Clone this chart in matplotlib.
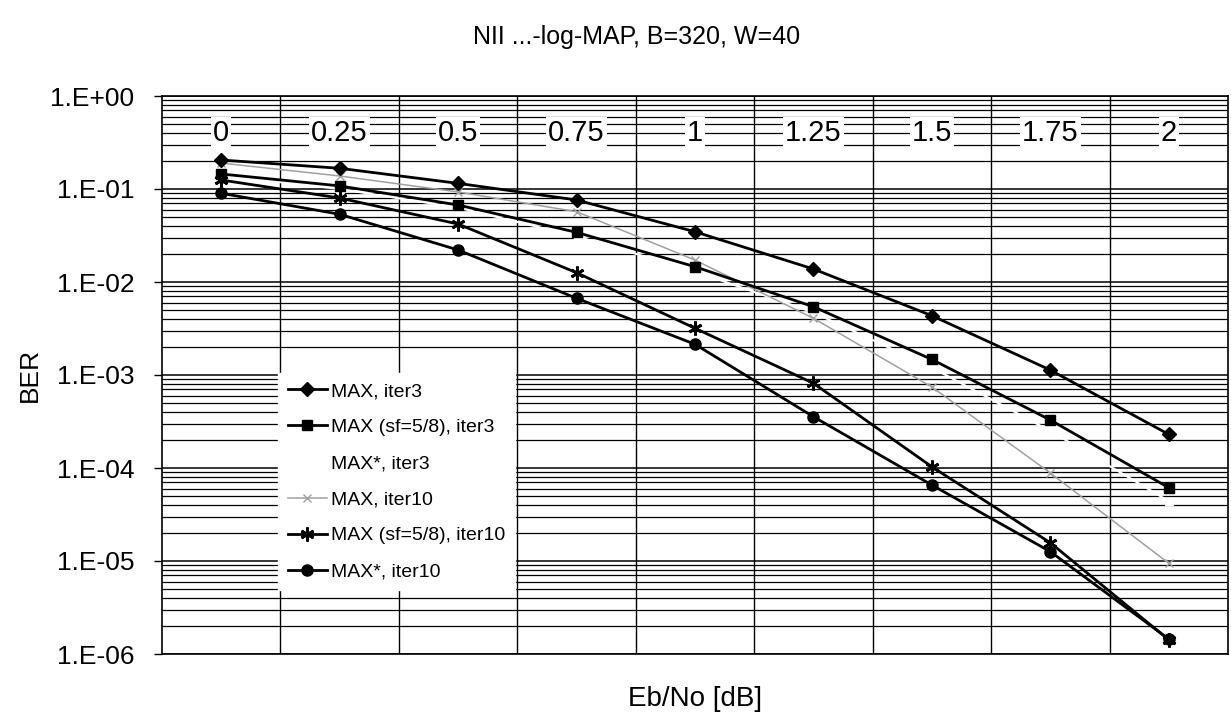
import numpy as np
import matplotlib
matplotlib.use("Agg")
import matplotlib.pyplot as plt
from matplotlib.ticker import FixedLocator, FuncFormatter, NullFormatter

plt.rcParams['font.family'] = ['Liberation Sans', 'DejaVu Sans']

# Eb/No categories [dB]
ebno = ["0", "0.25", "0.5", "0.75", "1", "1.25", "1.5", "1.75", "2"]

# BER per decoder configuration
ber_max_it3 = [0.205, 0.167, 0.115, 0.0762, 0.0347, 0.0138, 0.00434, 0.00113, 2.30e-4]
ber_max_sf_it3 = [0.145, 0.108, 0.0673, 0.0342, 0.0146, 0.00542, 0.00147, 3.28e-4, 6.14e-5]
ber_maxstar_it3 = [0.140, 0.100, 0.063, 0.031, 0.013, 0.0047, 0.0012, 2.5e-4, 4.4e-5]
ber_max_it10 = [0.19, 0.138, 0.0929, 0.057, 0.0172, 0.00407, 7.43e-4, 8.83e-5, 9.45e-6]
ber_max_sf_it10 = [0.125, 0.080, 0.042, 0.0126, 0.00318, 8.15e-4, 1.03e-4, 1.57e-5, 1.42e-6]
ber_maxstar_it10 = [0.090, 0.0535, 0.0221, 0.00668, 0.00214, 3.56e-4, 6.56e-5, 1.26e-5, 1.45e-6]

# y-axis decades
decades = [0, -1, -2, -3, -4, -5, -6]

W, H = 1231, 715
fig = plt.figure(figsize=(W / 100, H / 100), dpi=100)
ax = fig.add_axes([162 / W, 1 - 654 / H, (1228 - 162) / W, (654 - 96) / H])

x = np.arange(len(ebno))

ax.set_yscale('log')
ax.set_ylim(1e-6, 1e0)
ax.set_xlim(-0.5, len(ebno) - 0.5)

# gridlines: vertical at category boundaries, horizontal major + minor
for b in np.arange(0.5, len(ebno) - 0.5, 1.0):
    ax.axvline(b, color='black', lw=1.0, zorder=1)
major = [10.0 ** d for d in decades]
minor = [m * 10.0 ** d for d in decades[1:] for m in range(2, 10)]
ax.yaxis.set_major_locator(FixedLocator(major))
ax.yaxis.set_minor_locator(FixedLocator(minor))
ax.yaxis.set_minor_formatter(NullFormatter())
ax.grid(True, which='major', axis='y', color='black', lw=1.1, zorder=1)
ax.grid(True, which='minor', axis='y', color='black', lw=0.9, zorder=1)
ax.set_axisbelow(True)

ax.yaxis.set_major_formatter(FuncFormatter(lambda v, p: "1.E{:+03d}".format(int(round(np.log10(v))))))
ax.tick_params(axis='y', which='major', direction='out', length=6, width=1, labelsize=19, pad=14)
ax.tick_params(axis='y', which='minor', length=0)
ax.set_xticks([])

for s in ax.spines.values():
    s.set_color('black')
    s.set_linewidth(1.2)

lk = dict(color='black', lw=2.0, zorder=4)
ax.plot(x, ber_max_it3, marker='D', ms=7, label='MAX, iter3', **lk)
ax.plot(x, ber_max_sf_it3, marker='s', ms=7, label='MAX (sf=5/8), iter3', **lk)
ax.plot(x, ber_maxstar_it3, color='white', lw=1.5, marker='^', ms=6, mfc='white', mec='white',
        label='MAX*, iter3', zorder=3)
ax.plot(x, ber_max_it10, color='#a0a0a0', lw=1.1, marker='x', ms=6, mew=1.0,
        label='MAX, iter10', zorder=3)
ax.plot(x, ber_max_sf_it10, marker=(6, 2, 0), ms=10, mew=2.0, label='MAX (sf=5/8), iter10', **lk)
ax.plot(x, ber_maxstar_it10, marker='o', ms=8, label='MAX*, iter10', **lk)

# category labels inside the plot near the top
for xi, lab in zip(x, ebno):
    ax.text(xi, 0.40, lab, ha='center', va='center', fontsize=21, zorder=5,
            bbox=dict(facecolor='white', edgecolor='none', pad=1.5))

leg = ax.legend(loc='upper left', bbox_to_anchor=(0.109, 0.504), fontsize=14,
                frameon=True, fancybox=False, framealpha=1, edgecolor='white',
                handlelength=2.0, handletextpad=0.2, labelspacing=0.95,
                borderpad=0.5, borderaxespad=0)
leg.set_zorder(6)

fig.text(637 / W, 1 - 37 / H, "NII ...-log-MAP, B=320, W=40", ha='center', va='center', fontsize=18)
fig.text(30 / W, 1 - 375 / H, "BER", ha='center', va='center', rotation=90, fontsize=19)
fig.text(695 / W, 1 - 699 / H, "Eb/No [dB]", ha='center', va='center', fontsize=20)

fig.savefig('out.png', dpi=100, facecolor='white')
